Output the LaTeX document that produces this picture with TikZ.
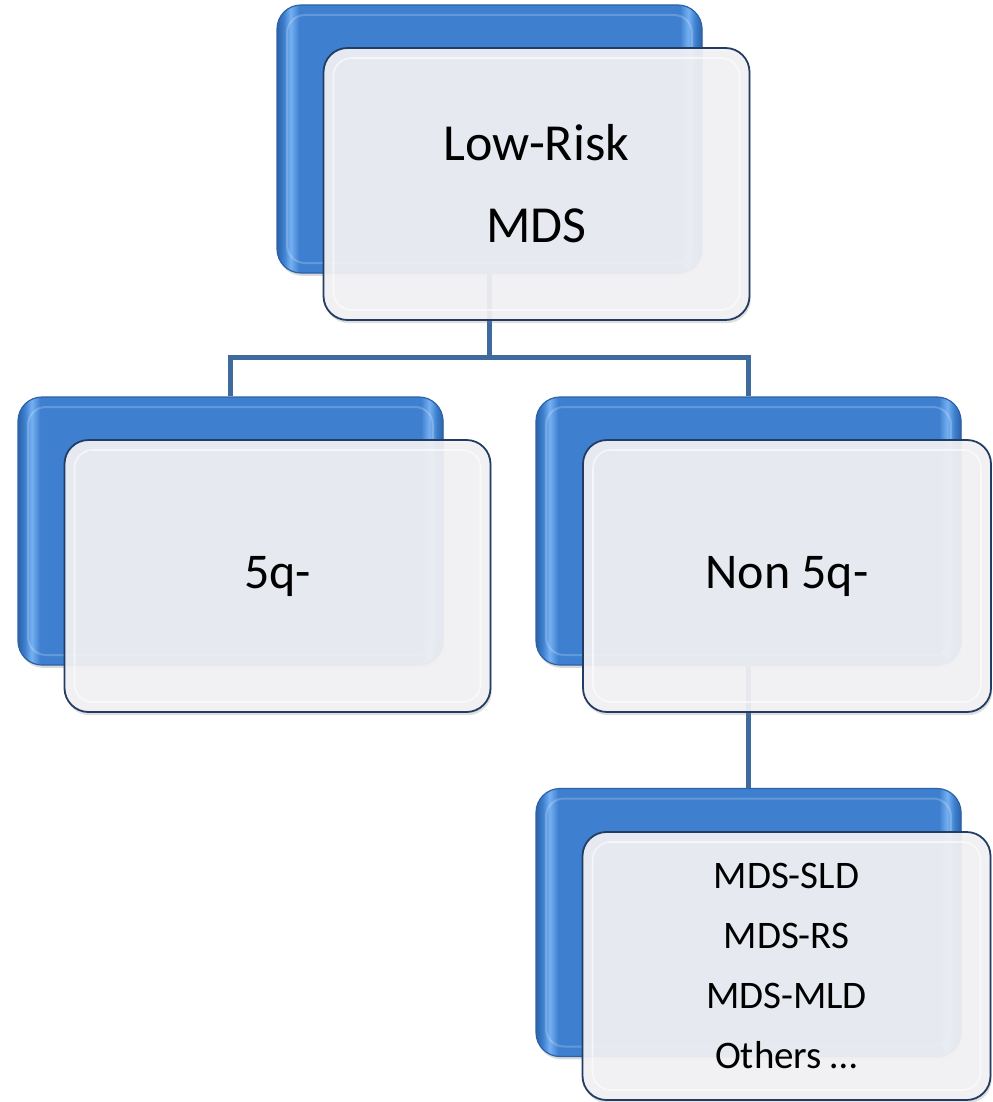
\documentclass[tikz,border=0pt]{standalone}
\usepackage{fontspec}
\setmainfont{Carlito}
\usetikzlibrary{shadows}
\definecolor{boxblue}{RGB}{62,128,207}
\definecolor{boxbluedark}{RGB}{44,98,168}
\definecolor{boxbluehi}{RGB}{118,176,242}
\definecolor{panelfill}{RGB}{243,243,245}
\definecolor{paneledge}{RGB}{34,60,100}
\definecolor{linkblue}{RGB}{62,106,158}
% glossy stripes near the left and right edges of the blue boxes
\pgfdeclarehorizontalshading{bluegloss}{100bp}{color(0bp)=(boxbluedark); color(25bp)=(boxbluedark); color(25.8bp)=(boxblue); color(26.6bp)=(boxbluehi); color(27.6bp)=(boxblue); color(72.4bp)=(boxblue); color(73.4bp)=(boxbluehi); color(74.2bp)=(boxblue); color(75bp)=(boxbluedark); color(100bp)=(boxbluedark)}
\newcommand{\toptext}{\fontsize{26}{41}\selectfont}
\newcommand{\midtext}{\fontsize{25}{30}\selectfont}
\newcommand{\subtext}{\fontsize{19.5}{30}\selectfont}

\begin{document}
\begin{tikzpicture}[x=0.5pt,y=-0.5pt,
    backbox/.style={rectangle, rounded corners=12pt, draw=boxbluedark, line width=0.6pt,
        shading=bluegloss, minimum width=212.5pt, minimum height=134pt,
        drop shadow={opacity=0.3, shadow xshift=0.6pt, shadow yshift=-1.4pt},
        path picture={\draw[white, opacity=0.2, line width=1pt, rounded corners=9pt]
            ([shift={(5pt,-5pt)}]path picture bounding box.north west) rectangle
            ([shift={(-5pt,5pt)}]path picture bounding box.south east);}},
    frontbox/.style={rectangle, rounded corners=12pt, draw=paneledge, line width=0.9pt,
        fill=panelfill, fill opacity=0.92, text opacity=1, align=center,
        minimum width=213pt, minimum height=136pt,
        drop shadow={opacity=0.25, shadow xshift=0.6pt, shadow yshift=-1.6pt},
        path picture={\draw[white, opacity=0.6, line width=0.8pt, rounded corners=9pt]
            ([shift={(5pt,-5pt)}]path picture bounding box.north west) rectangle
            ([shift={(-5pt,5pt)}]path picture bounding box.south east);}},
    link/.style={draw=linkblue, line width=2.5pt}]

    \useasboundingbox (0,0) rectangle (992,1102);

    % Blue boxes behind
    \node[backbox] (lowriskback) at (489.5,139) {};
    \node[backbox] (fiveqback) at (230.5,531) {};
    \node[backbox] (nonfiveqback) at (748.5,531) {};
    \node[backbox] (subtypesback) at (748.5,922.5) {};

    % Tree lines
    \coordinate (split) at (489.5,357);
    \draw[link] (lowriskback.south) -- (split) -| (fiveqback.north);
    \draw[link] (split) -| (nonfiveqback.north);
    \draw[link] (nonfiveqback.south) -- (subtypesback.north);

    % Front panels with labels
    \node[frontbox, font=\toptext] (lowrisk) at (536.5,184) {Low-Risk\\MDS};
    \node[frontbox, font=\midtext] (fiveq) at (277.5,576) {5q-};
    \node[frontbox, font=\midtext, minimum width=204pt] (nonfiveq) at (787,576) {Non 5q-};
    \node[frontbox, font=\subtext, minimum width=204pt, minimum height=134pt] (subtypes) at (786.5,966)
        {MDS-SLD\\MDS-RS\\MDS-MLD\\Others …};
\end{tikzpicture}
\end{document}
